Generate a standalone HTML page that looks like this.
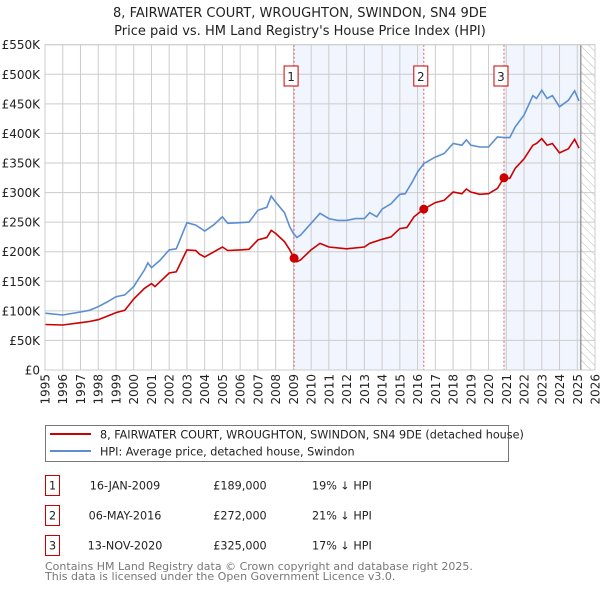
<!DOCTYPE html>
<html><head><meta charset="utf-8">
<style>
body{margin:0;background:#fff;font-family:"DejaVu Sans","Liberation Sans",sans-serif;}
#wrap{position:relative;width:600px;height:590px;overflow:hidden;}
svg text{font-family:"DejaVu Sans","Liberation Sans",sans-serif;}
</style></head>
<body>
<div id="wrap">
<svg id="chart" width="600" height="590"></svg>
</div>
<script>
const years=[1995,1996,1997,1998,1999,2000,2001,2002,2003,2004,2005,2006,2007,2008,2009,2010,2011,2012,2013,2014,2015,2016,2017,2018,2019,2020,2021,2022,2023,2024,2025,2026];
const yTicks=[0,50,100,150,200,250,300,350,400,450,500,550];
const hpiT=[1995,1996,1997,1997.5,1998,1998.5,1999,1999.5,2000,2000.3,2000.6,2000.8,2001,2001.5,2002,2002.4,2003,2003.5,2004,2004.5,2005,2005.3,2006,2006.5,2007,2007.5,2007.75,2008,2008.5,2008.8,2009,2009.2,2009.4,2010,2010.5,2011,2011.5,2012,2012.5,2013,2013.3,2013.7,2014,2014.5,2015,2015.3,2015.7,2016,2016.35,2017,2017.5,2018,2018.5,2018.75,2019,2019.5,2020,2020.5,2020.87,2021.2,2021.5,2022,2022.5,2022.7,2023,2023.3,2023.6,2024,2024.5,2024.85,2025.1];
const hpiV=[96,93,98,101,107,115,124,127,141,155,169,181,173,186,203,205,249,245,235,245,259,248,249,250,270,275,294,284,266,242,231,224,228,248,265,256,253,253,256,256,266,259,272,281,297,298,318,335,349,360,366,383,380,389,380,377,377,394,393,393,411,431,464,459,473,459,464,445,456,472,455];
const paidT=[1995,1996,1997,1997.5,1998,1998.5,1999,1999.5,2000,2000.6,2001,2001.2,2002,2002.4,2003,2003.5,2003.7,2004,2005,2005.3,2006,2006.5,2007,2007.5,2007.75,2008,2008.5,2008.8,2009.04,2009.2,2009.4,2010,2010.5,2011,2012,2013,2013.3,2014,2014.5,2015,2015.4,2015.8,2016.35,2017,2017.5,2018,2018.5,2018.75,2019,2019.5,2020,2020.5,2020.87,2021.2,2021.5,2022,2022.5,2022.7,2023,2023.3,2023.6,2024,2024.5,2024.85,2025.1];
const paidV=[77,76,80,82,85,91,97,101,120,138,146,141,164,166,203,202,196,191,208,202,203,204,220,224,236,231,217,203,189,183,186,203,214,208,205,208,214,221,225,239,241,259,272,283,287,301,298,306,301,297,298,307,325,324,341,357,380,383,391,380,383,367,374,390,375];
const saleLabels=["1","2","3"];
const saleT=[2009.04,2016.35,2020.87];
const saleV=[189,272,325];
const shadeStart=[2009.04,2020.87];
const shadeEnd=[2016.35,2025.2];
const dataEnd=2025.2;

const L=45,R=595,T=44.7,B=370;
const X0=1995,X1=2026,YMAX=550;
const sx=t=>L+(t-X0)/(X1-X0)*(R-L);
const sy=v=>B-v/YMAX*(B-T);
const NS="http://www.w3.org/2000/svg";
const svg=document.getElementById('chart');
function mk(tag,attrs,parent){const e=document.createElementNS(NS,tag);for(const k in attrs)e.setAttribute(k,attrs[k]);(parent||svg).appendChild(e);return e;}

const defs=mk('defs',{});
const pat=mk('pattern',{id:'hatch',width:6,height:6,patternUnits:'userSpaceOnUse',patternTransform:'rotate(-45)'},defs);
mk('line',{x1:0,y1:0,x2:0,y2:6,stroke:'#bbb','stroke-width':1},pat);

// title
let t1=mk('text',{x:300,y:17,'text-anchor':'middle','font-size':13,fill:'#222'});t1.textContent="8, FAIRWATER COURT, WROUGHTON, SWINDON, SN4 9DE";


let t2=mk('text',{x:300,y:35,'text-anchor':'middle','font-size':13,fill:'#222'});t2.textContent="Price paid vs. HM Land Registry's House Price Index (HPI)";



// shading
for(let i=0;i<shadeStart.length;i++){
  const r=mk('rect',{x:sx(shadeStart[i]),y:T,width:sx(shadeEnd[i])-sx(shadeStart[i]),height:B-T,fill:'#eef3fc',opacity:0.8});
  
  
}
const hz=mk('rect',{x:sx(dataEnd),y:T,width:R-sx(dataEnd),height:B-T,fill:'url(#hatch)'});



// grid
years.forEach(y=>{
  const g=mk('line',{x1:sx(y),x2:sx(y),y1:T,y2:B,stroke:'#ccc','stroke-width':1});
  
  
  const tx=mk('text',{x:0,y:0,'font-size':12,fill:'#222','text-anchor':'end',transform:`translate(${sx(y)+4.5},${B+4}) rotate(-90)`});
  tx.textContent=y;
  
  
});
yTicks.forEach(v=>{
  const g=mk('line',{x1:L,x2:R,y1:sy(v),y2:sy(v),stroke:'#ccc','stroke-width':1});
  
  
  const tx=mk('text',{x:40,y:sy(v)+4.5,'font-size':12,fill:'#222','text-anchor':'end'});
  tx.textContent=v===0?'£0':'£'+v+'K';
  
  
});
const bl=mk('line',{x1:sx(dataEnd),x2:sx(dataEnd),y1:T,y2:B,stroke:'#888','stroke-width':1.2});



// sale lines
saleT.forEach((t,i)=>{
  const l=mk('line',{x1:sx(t),x2:sx(t),y1:T,y2:B,stroke:'#e06060','stroke-width':1,'stroke-dasharray':'2,2'});
  
  
  const bx=mk('rect',{x:sx(t)-10,y:66,width:14,height:20,fill:'#fff',stroke:'#c00','stroke-width':1});
  
  
  const tx=mk('text',{x:sx(t)-3,y:81,'font-size':12,'text-anchor':'middle',fill:'#222'});
  tx.textContent=saleLabels[i];
  
  
});

function path(ts,vs){return ts.map((t,i)=>(i?'L':'M')+sx(t).toFixed(1)+','+sy(vs[i]).toFixed(1)).join('');}
const hp=mk('path',{d:path(hpiT,hpiV),fill:'none',stroke:'#5b8fd0','stroke-width':1.6});


const pp=mk('path',{d:path(paidT,paidV),fill:'none',stroke:'#cc0000','stroke-width':1.6});


saleT.forEach((t,i)=>{
  const c=mk('circle',{cx:sx(t),cy:sy(saleV[i]),r:4.5,fill:'#cc0000'});
  
  
});
const fr=mk('rect',{x:L,y:T,width:R-L,height:B-T,fill:'none',stroke:'#ccc','stroke-width':1});



// legend
const lg=mk('g',{});


mk('rect',{x:45.5,y:425.5,width:463,height:36,fill:'#fff',stroke:'#777','stroke-width':1},lg);
mk('line',{x1:50,x2:91,y1:434,y2:434,stroke:'#cc0000','stroke-width':2},lg);
mk('line',{x1:50,x2:91,y1:451,y2:451,stroke:'#5b8fd0','stroke-width':2},lg);
let lt=mk('text',{x:100,y:438.5,'font-size':11.2,fill:'#222'},lg);lt.textContent="8, FAIRWATER COURT, WROUGHTON, SWINDON, SN4 9DE (detached house)";


lt=mk('text',{x:100,y:455.5,'font-size':11.2,fill:'#222'},lg);lt.textContent="HPI: Average price, detached house, Swindon";



// table
const dates=["16-JAN-2009","06-MAY-2016","13-NOV-2020"];
const prices=["£189,000","£272,000","£325,000"];
const pcts=["19% ↓ HPI","21% ↓ HPI","17% ↓ HPI"];
[0,1,2].forEach(i=>{
  const y=475+i*30;
  const b=mk('rect',{x:45.5,y:y+0.5,width:14,height:20,fill:'#fff',stroke:'#c00','stroke-width':1});
  
  
  const vals=[[52.5,saleLabels[i],'middle'],[125,dates[i],'middle'],[240,prices[i],'middle'],[312,pcts[i],'start']];
  vals.forEach(v=>{
    const tx=mk('text',{x:v[0],y:y+14.5,'font-size':11.2,fill:'#222','text-anchor':v[2]});
    tx.textContent=v[1];
    
    
  });
});
let f=mk('text',{x:45,y:570,'font-size':11,fill:'#777'});f.textContent="Contains HM Land Registry data © Crown copyright and database right 2025.";


f=mk('text',{x:45,y:580,'font-size':11,fill:'#777'});f.textContent="This data is licensed under the Open Government Licence v3.0.";


</script>
</body></html>
